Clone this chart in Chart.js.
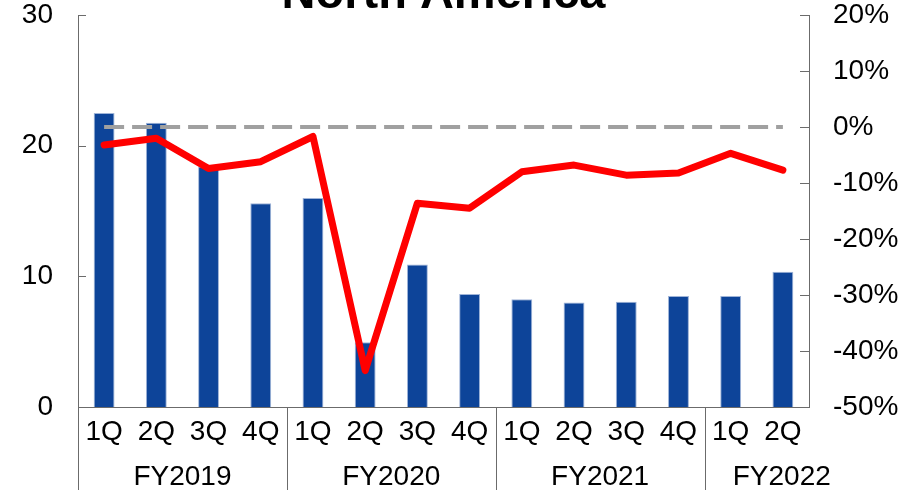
<!DOCTYPE html>
<html>
<head>
<meta charset="utf-8">
<script src="https://cdn.jsdelivr.net/npm/chart.js@4.4.1/dist/chart.umd.min.js"></script>
<style>
  body { margin: 0; background: #fff; }
</style>
</head>
<body>
<canvas id="myChart" width="904" height="490"></canvas>
<script>
// data
var quarters = ['1Q', '2Q', '3Q', '4Q', '1Q', '2Q', '3Q', '4Q', '1Q', '2Q', '3Q', '4Q', '1Q', '2Q'];
var fiscalYears = ['FY2019', 'FY2020', 'FY2021', 'FY2022'];
var quartersPerYear = [4, 4, 4, 2];
var sales = [22.5, 21.75, 18.4, 15.6, 16.0, 4.95, 10.9, 8.65, 8.25, 8.0, 8.05, 8.5, 8.5, 10.35];
var growth = [-3.2, -2.0, -7.4, -6.2, -1.7, -43.5, -13.6, -14.5, -8.0, -6.8, -8.6, -8.2, -4.7, -7.7];
var zeroLine = [0, 0, 0, 0, 0, 0, 0, 0, 0, 0, 0, 0, 0, 0];
var leftTicks = [0, 10, 20, 30];
var rightTicks = [-50, -40, -30, -20, -10, 0, 10, 20];
var chartTitle = 'North America';

var fontName = '"Liberation Sans", Arial, sans-serif';
var axisColor = '#6b6b6b';

// title, inward ticks, FY group labels and separators
var decor = {
  id: 'decor',
  afterDraw: function(chart) {
    var ctx = chart.ctx;
    var area = chart.chartArea;
    var x = chart.scales.x, yl = chart.scales.y, yr = chart.scales.y1;
    ctx.save();
    ctx.strokeStyle = axisColor;
    ctx.lineWidth = 1;
    function seg(x1, y1, x2, y2) {
      ctx.beginPath(); ctx.moveTo(x1, y1); ctx.lineTo(x2, y2); ctx.stroke();
    }
    leftTicks.forEach(function(v) {
      var py = Math.round(yl.getPixelForValue(v)) + 0.5;
      seg(area.left, py, area.left + 8, py);
    });
    rightTicks.forEach(function(v) {
      var py = Math.round(yr.getPixelForValue(v)) + 0.5;
      seg(area.right - 9, py, area.right, py);
    });

    var step = (area.right - area.left) / quarters.length;
    var start = 0;
    ctx.fillStyle = '#000';
    ctx.font = '28px ' + fontName;
    ctx.textAlign = 'center';
    ctx.textBaseline = 'middle';
    quartersPerYear.forEach(function(n, i) {
      var edge = Math.round(x.getPixelForValue(start) - step / 2) + 0.5;
      seg(edge, area.bottom, edge, chart.height);
      var cx = (x.getPixelForValue(start) + x.getPixelForValue(start + n - 1)) / 2;
      if (i == quartersPerYear.length - 1) cx += 25;
      ctx.fillText(fiscalYears[i], cx, 477);
      start += n;
    });

    ctx.font = 'bold 47px ' + fontName;
    ctx.textBaseline = 'alphabetic';
    ctx.fillText(chartTitle, (area.left + area.right) / 2, 8);
    ctx.restore();
  }
};

function noPad(scale) {
  scale.paddingTop = 0;
  scale.paddingBottom = 0;
  scale.paddingLeft = 0;
  scale.paddingRight = 0;
}

var ctx = document.getElementById('myChart').getContext('2d');
var chart = new Chart(ctx, {
  data: {
    labels: quarters,
    datasets: [
      {
        type: 'line',
        data: growth,
        yAxisID: 'y1',
        borderColor: '#ff0000',
        borderWidth: 7,
        borderJoinStyle: 'round',
        borderCapStyle: 'round',
        pointRadius: 0,
        tension: 0,
        order: 0
      },
      {
        type: 'line',
        data: zeroLine,
        yAxisID: 'y1',
        borderColor: '#a0a0a0',
        borderWidth: 4,
        borderDash: [20, 8],
        pointRadius: 0,
        order: 1
      },
      {
        type: 'bar',
        data: sales,
        yAxisID: 'y',
        backgroundColor: '#0d4499',
        borderColor: '#9fb4d8',
        borderWidth: 1,
        barPercentage: 0.4,
        categoryPercentage: 1.0,
        order: 2
      }
    ]
  },
  options: {
    responsive: false,
    animation: false,
    layout: { padding: { top: 15, left: 0, right: 0, bottom: 0 } },
    plugins: {
      legend: { display: false },
      tooltip: { enabled: false }
    },
    scales: {
      x: {
        grid: { display: false, drawTicks: false },
        border: { display: true, color: axisColor, width: 1 },
        ticks: {
          color: '#000',
          font: { family: fontName, size: 28, lineHeight: 1 },
          padding: 11,
          maxRotation: 0,
          autoSkip: false
        },
        afterFit: function(scale) { scale.height = 83; noPad(scale); }
      },
      y: {
        position: 'left',
        min: leftTicks[0],
        max: leftTicks[leftTicks.length - 1],
        grid: { display: false, drawTicks: false },
        border: { display: true, color: axisColor, width: 1 },
        ticks: {
          stepSize: 10,
          color: '#000',
          font: { family: fontName, size: 28, lineHeight: 1 },
          padding: 25
        },
        afterFit: function(scale) { scale.width = 78; noPad(scale); }
      },
      y1: {
        position: 'right',
        min: rightTicks[0],
        max: rightTicks[rightTicks.length - 1],
        grid: { display: false, drawTicks: false },
        border: { display: true, color: axisColor, width: 1 },
        ticks: {
          stepSize: 10,
          color: '#000',
          font: { family: fontName, size: 28, lineHeight: 1 },
          padding: 24,
          callback: function(v) { return v + '%'; }
        },
        afterFit: function(scale) { scale.width = 95; noPad(scale); }
      }
    }
  },
  plugins: [decor]
});
</script>
</body>
</html>
